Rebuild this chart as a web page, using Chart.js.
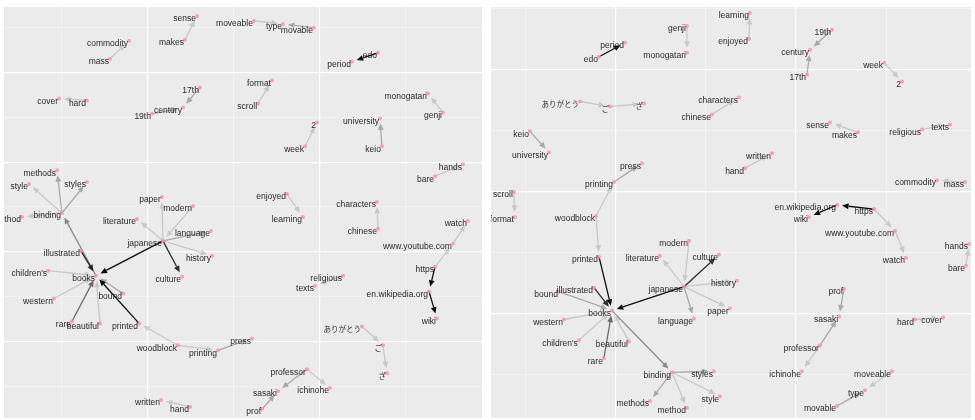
<!DOCTYPE html>
<html><head><meta charset="utf-8">
<script src="https://cdn.jsdelivr.net/npm/chart.js@4"></script>
<style>
html,body{margin:0;padding:0;background:#fff;}
#wrap{position:relative;width:975px;height:420px;overflow:hidden;}
canvas{position:absolute;top:0;}
</style></head><body>
<div id="wrap">
<canvas id="left" width="487" height="420" style="left:0;width:487px;height:420px"></canvas>
<canvas id="right" width="488" height="420" style="left:487px;width:488px;height:420px"></canvas>
</div>
<script>
// Node words (bigram graph vertices)
const words = ["sense","makes","moveable","type","movable","period","edo","commodity","mass","cover","hard","17th","century","19th","format","scroll","2","week","university","keio","monogatari","genji","hands","bare","methods","styles","style","binding","method","paper","modern","literature","language","japanese","history","culture","illustrated","children's","books","bound","western","rare","beautiful","printed","woodblock","printing","press","enjoyed","learning","characters","chinese","watch","www.youtube.com","https","en.wikipedia.org","wiki","religious","texts","ありがとう","ご","ざ","professor","ichinohe","sasaki","prof","written","hand"];

// Left panel layout coordinates
const leftX = [2.85,2.15,6.16,7.85,9.65,11.86,13.37,-1.10,-2.21,-5.17,-3.55,3.02,2.03,0.23,7.21,6.40,9.83,9.13,13.49,13.60,16.28,17.15,18.31,16.69,-5.29,-3.55,-6.92,-5.0,-7.33,0.81,2.62,-0.64,3.66,0.87,3.72,1.98,-3.90,-5.81,-3.02,-1.45,-5.47,-4.42,-2.79,-0.52,1.74,4.07,6.05,8.08,9.01,13.31,13.37,18.60,17.73,16.69,16.34,16.80,11.34,9.71,12.44,13.66,13.90,9.24,10.58,7.56,6.63,0.76,2.44];
const leftY = [36.33,33.67,35.78,35.44,35.0,31.22,32.22,33.56,31.56,27.11,26.89,28.33,26.11,25.4,29.11,26.56,24.44,21.78,24.89,21.78,27.67,25.56,19.78,18.44,19.11,17.78,17.56,14.33,13.89,16.11,15.11,13.67,12.33,11.22,9.56,7.22,10.11,7.89,7.33,5.33,4.78,2.22,2.0,2.0,-0.44,-1.0,0.33,16.44,13.89,15.56,12.56,13.44,10.89,8.33,5.56,2.56,7.33,6.22,1.67,-0.44,-3.56,-3.11,-5.22,-5.56,-7.56,-6.56,-7.33];

// Right panel layout coordinates
const rightX = [11.89,13.44,15.33,13.83,12.28,0.5,-0.94,17.83,19.39,18.17,16.61,10.61,10.78,12.0,-5.61,-5.67,15.89,14.89,-3.72,-4.78,3.94,3.94,19.61,19.44,1.89,5.44,5.78,3.11,3.94,6.33,4.06,2.44,4.33,3.78,6.72,5.72,-1.22,-2.06,-0.22,-3.17,-2.89,-0.67,0.72,-0.94,-1.11,-0.11,1.44,7.39,7.44,6.83,5.33,16.11,15.5,14.33,12.28,10.72,17.0,18.56,-2.0,-0.33,1.56,11.33,10.33,12.39,12.67,8.67,7.17];
const rightY = [15.67,14.86,-4.73,-6.29,-7.59,22.20,21.06,10.94,10.78,-0.33,-0.49,19.59,21.63,23.27,7.92,9.96,19.02,20.57,13.22,14.94,21.39,23.59,5.71,3.92,-7.18,-4.73,-6.78,-4.82,-7.76,0.41,5.96,4.73,-0.41,2.20,2.69,4.82,2.12,-2.20,0.24,1.80,-0.49,-3.67,-2.29,4.65,8.0,10.78,12.33,22.53,24.65,17.71,16.33,4.57,6.78,8.57,8.90,7.92,15.10,15.51,17.39,16.98,17.22,-2.61,-4.73,-0.24,2.04,13.14,11.92];

// Edges: from, to, bigram count
const edgeFrom = ["makes","moveable","movable","edo","mass","hard","17th","19th","scroll","week","keio","genji","bare","books","binding","binding","binding","binding","modern","japanese","japanese","japanese","japanese","japanese","japanese","illustrated","printed","bound","children's","western","rare","beautiful","woodblock","woodblock","printing","enjoyed","chinese","https","www.youtube.com","https","en.wikipedia.org","religious","ありがとう","ご","professor","professor","prof","hand"];
const edgeTo = ["sense","type","type","period","commodity","cover","century","century","format","2","university","monogatari","hands","binding","methods","styles","style","method","japanese","literature","language","paper","history","culture","books","books","books","books","books","books","books","books","printed","printing","press","learning","characters","www.youtube.com","watch","en.wikipedia.org","wiki","texts","ご","ざ","ichinohe","sasaki","sasaki","written"];
const edgeN = [2,2,3,8,2,2,3,3,2,2,3,2,2,4,3,3,2,2,2,2,3,2,2,7,8,7,8,3,2,2,5,2,2,2,3,2,2,2,2,8,8,2,2,2,2,3,3,2];

// Axis ranges
const leftXRange = [-8.37, 19.42], leftYRange = [-8.56, 37.33];
const rightXRange = [-6.94, 19.72], rightYRange = [-8.57, 25.14];
const gridStep = 5;

const nMin = Math.min(...edgeN), nMax = Math.max(...edgeN);
const alphaFor = n => 0.15 + 0.8 * (n - nMin) / (nMax - nMin);

const bgPlugin = {
  id: 'panelBg',
  beforeDraw(chart) {
    const a = chart.chartArea, c = chart.ctx;
    c.save(); c.fillStyle = '#EBEBEB';
    c.fillRect(a.left, a.top, a.right - a.left, a.bottom - a.top);
    c.restore();
  }
};

const edgePlugin = {
  id: 'edges',
  beforeDatasetsDraw(chart) {
    const c = chart.ctx, sx = chart.scales.x, sy = chart.scales.y, a = chart.chartArea;
    const pts = chart.data.datasets[0].data;
    c.save();
    c.beginPath(); c.rect(a.left, a.top, a.right - a.left, a.bottom - a.top); c.clip();
    for (let k = 0; k < edgeFrom.length; k++) {
      const i = words.indexOf(edgeFrom[k]), j = words.indexOf(edgeTo[k]);
      const x1 = sx.getPixelForValue(pts[i].x), y1 = sy.getPixelForValue(pts[i].y);
      const x2 = sx.getPixelForValue(pts[j].x), y2 = sy.getPixelForValue(pts[j].y);
      const dx = x2 - x1, dy = y2 - y1, L = Math.hypot(dx, dy);
      if (L < 1) continue;
      const ux = dx / L, uy = dy / L;
      const cap = 5;
      const tx = x2 - ux * cap, ty = y2 - uy * cap;
      const al = 6.5, aw = 2.9;
      const bx = tx - ux * al, by = ty - uy * al;
      const col = 'rgba(0,0,0,' + alphaFor(edgeN[k]).toFixed(3) + ')';
      c.strokeStyle = col; c.fillStyle = col; c.lineWidth = 1.3;
      c.beginPath(); c.moveTo(x1, y1); c.lineTo(bx, by); c.stroke();
      c.beginPath(); c.moveTo(tx, ty);
      c.lineTo(bx - uy * aw, by + ux * aw);
      c.lineTo(bx + uy * aw, by - ux * aw);
      c.closePath(); c.fill();
    }
    c.restore();
  }
};

const cjk = /[\u3040-\u30ff\u4e00-\u9fff]/;
const labelPlugin = {
  id: 'labels',
  afterDatasetsDraw(chart) {
    const c = chart.ctx, sx = chart.scales.x, sy = chart.scales.y, a = chart.chartArea;
    const pts = chart.data.datasets[0].data;
    c.save();
    c.beginPath(); c.rect(a.left, a.top, a.right - a.left, a.bottom - a.top); c.clip();
    c.fillStyle = '#2a2a2a'; c.textAlign = 'right'; c.textBaseline = 'middle';
    pts.forEach((p, i) => {
      c.font = cjk.test(words[i])
        ? '7.5px "Noto Sans CJK JP", sans-serif'
        : '8.5px "Liberation Sans", Arial, sans-serif';
      c.fillText(words[i], sx.getPixelForValue(p.x) - 1, sy.getPixelForValue(p.y) + 3);
    });
    c.restore();
  }
};

const isMajor = v => Math.abs(v % 10) < 1e-9;
function axis(range, horizontal) {
  return {
    type: 'linear', min: range[0], max: range[1],
    ticks: { display: false, stepSize: gridStep, includeBounds: false },
    grid: {
      drawTicks: false,
      color: ctx => isMajor(ctx.tick.value) ? '#FFFFFF' : 'rgba(255,255,255,0.55)',
      lineWidth: ctx => isMajor(ctx.tick.value) ? 1.2 : 0.7
    },
    border: { display: false },
    afterFit: s => { if (horizontal) s.height = 0; else s.width = 0; }
  };
}

function makeChart(id, xs, ys, xr, yr, pad) {
  new Chart(document.getElementById(id), {
    type: 'scatter',
    data: { datasets: [{
      data: words.map((w, i) => ({ x: xs[i], y: ys[i] })),
      pointRadius: 2, pointHoverRadius: 2, pointBorderWidth: 0,
      pointBackgroundColor: 'rgba(245,150,172,0.85)'
    }] },
    options: {
      responsive: false, animation: false, events: [],
      layout: { padding: pad },
      plugins: { legend: { display: false }, tooltip: { enabled: false } },
      scales: { x: axis(xr, true), y: axis(yr, false) }
    },
    plugins: [bgPlugin, edgePlugin, labelPlugin]
  });
}

makeChart('left', leftX, leftY, leftXRange, leftYRange, { left: 4, right: 5, top: 7, bottom: 0 });
makeChart('right', rightX, rightY, rightXRange, rightYRange, { left: 4, right: 4, top: 7, bottom: 0 });
</script>
</body></html>
